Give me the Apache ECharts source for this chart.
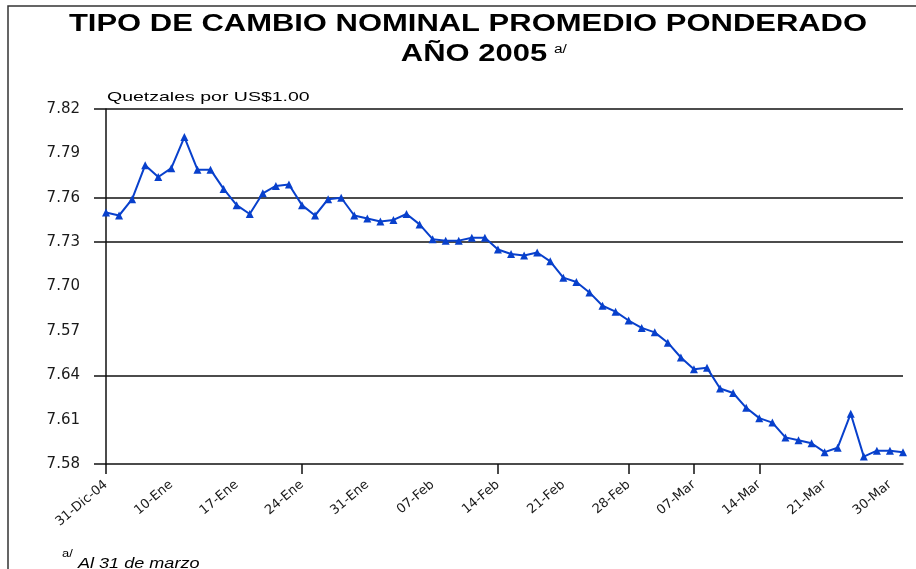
<!DOCTYPE html>
<html>
<head>
<meta charset="utf-8">
<script src="https://cdn.jsdelivr.net/npm/echarts@6/dist/echarts.min.js"></script>
<style>
html,body{margin:0;padding:0;background:#fff;}
#chart{width:916px;height:569px;}
</style>
</head>
<body>
<div id="chart"></div>
<script>
const dates = ["31-Dic-04",
 "04-Ene","05-Ene","06-Ene","07-Ene","10-Ene","11-Ene","12-Ene","13-Ene","14-Ene","17-Ene",
 "18-Ene","19-Ene","20-Ene","21-Ene","24-Ene","25-Ene","26-Ene","27-Ene","28-Ene","31-Ene",
 "01-Feb","02-Feb","03-Feb","04-Feb","07-Feb","08-Feb","09-Feb","10-Feb","11-Feb","14-Feb",
 "15-Feb","16-Feb","17-Feb","18-Feb","21-Feb","22-Feb","23-Feb","24-Feb","25-Feb","28-Feb",
 "01-Mar","02-Mar","03-Mar","04-Mar","07-Mar","08-Mar","09-Mar","10-Mar","11-Mar","14-Mar",
 "15-Mar","16-Mar","17-Mar","18-Mar","21-Mar","22-Mar","23-Mar","28-Mar","29-Mar","30-Mar","31-Mar"];

const rates = [7.750,7.748,7.759,7.782,7.774,7.780,7.801,7.779,7.779,7.766,
 7.755,7.749,7.763,7.768,7.769,7.755,7.748,7.759,7.760,7.748,
 7.746,7.744,7.745,7.749,7.742,7.732,7.731,7.731,7.733,7.733,
 7.725,7.722,7.721,7.723,7.717,7.706,7.703,7.696,7.687,7.683,
 7.677,7.672,7.669,7.662,7.652,7.644,7.645,7.631,7.628,7.618,
 7.611,7.608,7.598,7.596,7.594,7.588,7.591,7.614,7.585,7.589,
 7.589,7.588];

const yTickLabels = ["7.58","7.61","7.64","7.57","7.70","7.73","7.76","7.79","7.82"];
const yMin = 7.58, yMax = 7.82, yStep = 0.03;
const gridValues = [7.58, 7.64, 7.73, 7.76, 7.82];
const xTickIndices = [0, 15, 30, 40, 45, 50];

const titleLine1 = "TIPO DE CAMBIO NOMINAL PROMEDIO PONDERADO";
const titleLine2 = "AÑO 2005";
const noteMark = "a/";
const unitText = "Quetzales por US$1.00";
const noteText = "Al 31 de marzo";

const chart = echarts.init(document.getElementById('chart'), null, {renderer:'canvas'});
const blue = '#0840cc';
const sx = 1.29;

chart.setOption({
  animation: false,
  backgroundColor: '#fff',
  grid: {left: 106, right: 13, top: 109, bottom: 105, containLabel: false},
  xAxis: {
    type: 'category',
    data: dates,
    boundaryGap: false,
    axisLine: {show: true, lineStyle: {color: '#111', width: 1.5}},
    axisTick: {show: true, length: 10, lineStyle: {color: '#111', width: 1.5},
      interval: function (idx) { return xTickIndices.indexOf(idx) >= 0; }},
    axisLabel: {interval: 4, rotate: 40, margin: 19, fontFamily: 'DejaVu Sans', fontSize: 13, color: '#1a1a1a'},
    splitLine: {show: false}
  },
  yAxis: {
    type: 'value',
    min: yMin, max: yMax, interval: yStep,
    axisLine: {show: true, lineStyle: {color: '#111', width: 1.5}},
    axisTick: {show: true, length: 12, customValues: gridValues, lineStyle: {color: '#111', width: 1.5}},
    axisLabel: {margin: 26, fontFamily: 'DejaVu Sans', fontSize: 15, color: '#1a1a1a',
      formatter: function (v) {
        const i = Math.round((v - yMin) / yStep);
        return yTickLabels[i] !== undefined ? yTickLabels[i] : '';
      }},
    splitLine: {show: false}
  },
  series: [{
    type: 'line',
    data: rates,
    symbol: 'triangle',
    symbolSize: 8,
    showAllSymbol: true,
    lineStyle: {color: blue, width: 2},
    itemStyle: {color: blue},
    emphasis: {disabled: true},
    z: 3,
    markLine: {
      silent: true,
      symbol: ['none', 'none'],
      label: {show: false},
      emphasis: {disabled: true},
      lineStyle: {color: '#111', width: 1.5, type: 'solid'},
      z: 1,
      data: gridValues.slice(1).map(function (v) { return {yAxis: v}; })
    }
  }],
  graphic: [
    {type: 'rect', silent: true, z: 100, shape: {x: 8, y: 6, width: 1200, height: 1200},
      style: {fill: 'none', stroke: '#333', lineWidth: 1.5}},
    {type: 'text', x: 468, y: 24, scaleX: sx, z: 100,
      style: {text: titleLine1, fontFamily: 'Liberation Sans', fontWeight: 'bold', fontSize: 24,
        fill: '#000', align: 'center', verticalAlign: 'middle'}},
    {type: 'text', x: 474, y: 54, scaleX: sx, z: 100,
      style: {text: titleLine2, fontFamily: 'Liberation Sans', fontWeight: 'bold', fontSize: 24,
        fill: '#000', align: 'center', verticalAlign: 'middle'}},
    {type: 'text', x: 554, y: 50, scaleX: sx, z: 100,
      style: {text: noteMark, fontFamily: 'Liberation Sans', fontSize: 12,
        fill: '#000', align: 'left', verticalAlign: 'middle'}},
    {type: 'text', x: 107, y: 97, scaleX: 1.5, z: 100,
      style: {text: unitText, fontFamily: 'Liberation Sans', fontSize: 13,
        fill: '#000', align: 'left', verticalAlign: 'middle'}},
    {type: 'text', x: 62, y: 554, scaleX: sx, z: 100,
      style: {text: noteMark, fontFamily: 'Liberation Sans', fontSize: 10,
        fill: '#000', align: 'left', verticalAlign: 'middle'}},
    {type: 'text', x: 78, y: 564, scaleX: sx, z: 100,
      style: {text: noteText, fontFamily: 'Liberation Sans', fontStyle: 'italic', fontSize: 14,
        fill: '#000', align: 'left', verticalAlign: 'middle'}}
  ]
});
</script>
</body>
</html>
